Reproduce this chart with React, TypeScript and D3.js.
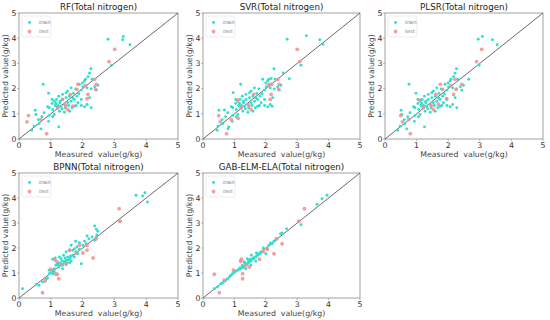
import React from "react";
import * as d3 from "d3";

type P = [number, number];

const ticks = [0, 1, 2, 3, 4, 5];
const titles = [
  "RF(Total nitrogen)",
  "SVR(Total nitrogen)",
  "PLSR(Total nitrogen)",
  "BPNN(Total nitrogen)",
  "GAB-ELM-ELA(Total nitrogen)",
];
const xLabel = "Measured  value(g/kg)";
const yLabel = "Predicted value(g/kg)";
const legendLabels = ["train", "test"];

const rfTrain: P[] = [
  [2.8, 3.96], [3.28, 4.07], [3.26, 3.94], [3.49, 3.74], [2.91, 2.93], [0.76, 2.17], [0.93, 1.82],
  [2.26, 2.79], [2.22, 2.61], [2.09, 2.37], [2.06, 2.3], [2.17, 2.47], [2.3, 2.37], [2.48, 2.13],
  [2.38, 2.07], [2.43, 1.94], [2.27, 1.99], [2.14, 2.03], [2.01, 2.07], [1.96, 1.94], [1.88, 1.8],
  [1.78, 1.99], [1.64, 2.03], [1.53, 1.9], [1.71, 1.81], [1.59, 1.7], [1.48, 1.64], [1.37, 1.57],
  [1.29, 1.5], [1.18, 1.57], [1.11, 1.5], [1.04, 1.57], [1.04, 1.41], [0.95, 1.24], [0.9, 1.28],
  [1.06, 1.17], [1.22, 1.33], [1.32, 1.3], [1.43, 1.37], [1.53, 1.44], [1.64, 1.5], [1.74, 1.57],
  [1.85, 1.44], [1.96, 1.33], [2.06, 1.28], [2.22, 1.64], [2.27, 1.24], [1.8, 1.33], [1.67, 1.24],
  [1.59, 1.1], [1.43, 1.06], [1.27, 1.1], [1.11, 0.97], [1.06, 0.88], [0.95, 0.93], [0.93, 0.7],
  [1.25, 0.48], [0.63, 0.61], [0.51, 1.14], [0.53, 0.97], [0.4, 0.35], [0.48, 0.51], [0.61, 0.77],
  [0.72, 0.88], [1.37, 1.77], [1.48, 1.84], [1.25, 1.7], [1.14, 1.33], [1.9, 2.17], [1.82, 1.7],
  [1.96, 1.57], [2.14, 1.37], [1.35, 1.2], [1.46, 1.24], [1.56, 1.33], [0.79, 1.04], [0.69, 0.4],
  [1.16, 1.41], [1.74, 1.3], [1.29, 1.44], [2.0, 2.22], [1.7, 1.62], [1.2, 1.25],
];
const rfTest: P[] = [
  [3.01, 3.56], [2.83, 3.07], [0.3, 0.93], [0.25, 0.68], [0.69, 0.77], [0.87, 0.21], [1.22, 1.24],
  [1.37, 1.57], [1.85, 2.17], [1.82, 1.97], [2.17, 1.77], [2.14, 1.6], [2.43, 2.17], [2.41, 1.97],
  [2.38, 2.37], [1.53, 1.17], [1.61, 1.77], [1.46, 1.33], [2.09, 2.13], [1.69, 1.3],
];

const svrTrain: P[] = [
  [2.68, 3.96], [3.29, 4.1], [3.72, 3.94], [3.82, 3.76], [3.12, 2.93], [1.2, 2.17], [0.96, 1.84],
  [2.26, 2.79], [2.75, 2.39], [2.09, 2.37], [2.06, 2.3], [2.17, 2.4], [2.3, 2.37], [2.48, 2.13],
  [2.38, 2.07], [2.43, 1.94], [2.27, 1.99], [2.14, 2.03], [2.01, 2.07], [1.96, 1.94], [1.88, 1.8],
  [1.78, 1.99], [1.64, 2.03], [1.53, 1.9], [1.71, 1.81], [1.59, 1.7], [1.48, 1.64], [1.37, 1.57],
  [1.29, 1.5], [1.18, 1.57], [1.11, 1.5], [1.04, 1.57], [1.04, 1.41], [0.95, 1.24], [0.9, 1.28],
  [1.06, 1.17], [1.22, 1.33], [1.32, 1.3], [1.43, 1.37], [1.53, 1.44], [1.64, 1.5], [1.74, 1.57],
  [1.85, 1.44], [1.96, 1.33], [2.06, 1.28], [2.22, 1.64], [2.2, 1.3], [1.8, 1.33], [1.67, 1.24],
  [1.59, 1.1], [1.43, 1.06], [1.27, 1.1], [1.11, 0.97], [1.06, 0.88], [0.95, 0.93], [0.93, 0.7],
  [0.82, 0.48], [0.63, 0.61], [0.51, 1.14], [0.68, 1.15], [0.45, 0.35], [0.48, 0.51], [0.61, 0.77],
  [0.72, 0.88], [1.37, 1.77], [1.48, 1.84], [1.25, 1.7], [1.14, 1.33], [1.9, 2.37], [1.82, 1.7],
  [1.96, 1.57], [2.14, 1.37], [1.35, 1.2], [1.46, 1.24], [1.56, 1.33], [0.79, 1.04], [0.8, 0.4],
  [1.16, 1.41], [1.74, 1.3], [1.29, 1.44], [2.0, 2.22], [1.7, 1.62], [1.2, 1.25], [2.55, 2.62],
];
const svrTest: P[] = [
  [3.0, 3.56], [3.08, 3.07], [0.5, 0.93], [0.55, 0.68], [0.9, 0.77], [0.75, 0.21], [1.22, 1.24],
  [1.1, 1.55], [2.12, 2.17], [2.18, 2.17], [2.17, 1.77], [2.14, 1.57], [2.43, 2.17], [2.41, 1.97],
  [2.38, 2.37], [1.53, 1.17], [1.61, 1.77], [1.46, 1.33], [2.09, 2.13], [1.12, 0.82],
];

const plsrTrain: P[] = [
  [2.95, 3.96], [3.08, 4.07], [3.4, 3.94], [3.55, 3.74], [2.98, 2.93], [0.76, 2.17], [0.98, 1.82],
  [2.26, 2.79], [2.22, 2.61], [2.09, 2.37], [2.06, 2.3], [2.17, 2.47], [2.3, 2.37], [2.48, 2.13],
  [2.38, 2.07], [2.43, 1.94], [2.27, 1.99], [2.14, 2.03], [2.01, 2.07], [1.96, 1.94], [1.88, 1.8],
  [1.78, 1.99], [1.64, 2.03], [1.53, 1.9], [1.71, 1.81], [1.59, 1.7], [1.48, 1.64], [1.37, 1.57],
  [1.29, 1.5], [1.18, 1.57], [1.11, 1.5], [1.04, 1.57], [1.04, 1.41], [0.95, 1.24], [0.9, 1.28],
  [1.06, 1.17], [1.22, 1.33], [1.32, 1.3], [1.43, 1.37], [1.53, 1.44], [1.64, 1.5], [1.74, 1.57],
  [1.85, 1.44], [1.96, 1.33], [2.06, 1.28], [2.22, 1.64], [2.27, 1.24], [1.8, 1.33], [1.67, 1.24],
  [1.59, 1.1], [1.43, 1.06], [1.27, 1.1], [1.11, 0.97], [1.06, 0.88], [0.95, 0.93], [0.93, 0.7],
  [1.25, 0.48], [0.63, 0.61], [0.51, 1.14], [0.53, 0.97], [0.4, 0.35], [0.48, 0.51], [0.61, 0.77],
  [0.72, 0.88], [1.37, 1.77], [1.48, 1.84], [1.25, 1.7], [1.14, 1.33], [1.9, 2.17], [1.82, 1.7],
  [1.96, 1.57], [2.14, 1.37], [1.35, 1.2], [1.46, 1.24], [1.56, 1.33], [0.79, 1.04], [0.69, 0.4],
  [1.16, 1.41], [1.74, 1.3], [1.29, 1.44], [2.0, 2.22], [1.7, 1.62], [1.2, 1.25], [2.65, 2.37],
];
const plsrTest: P[] = [
  [3.06, 3.56], [2.9, 3.07], [0.5, 0.93], [0.55, 0.68], [0.75, 0.77], [0.8, 0.21], [1.22, 1.24],
  [1.1, 1.55], [1.75, 2.17], [1.82, 1.97], [2.17, 1.77], [1.95, 1.6], [2.43, 2.17], [2.25, 1.97],
  [2.22, 2.37], [1.53, 1.17], [1.61, 1.77], [1.46, 1.33], [2.09, 2.13], [1.69, 1.38],
];

const bpnnTrain: P[] = [
  [3.68, 4.11], [3.96, 4.21], [3.89, 4.08], [4.04, 3.84], [0.11, 0.37], [0.63, 0.51], [0.74, 0.64],
  [0.85, 0.75], [0.9, 0.8], [0.95, 0.97], [1.0, 1.01], [1.06, 1.11], [1.11, 1.17], [2.38, 2.88],
  [2.43, 2.75], [2.48, 2.67], [2.3, 2.44], [2.14, 2.48], [2.2, 2.37], [2.43, 2.44], [2.38, 2.31],
  [2.06, 2.27], [1.9, 2.21], [1.78, 2.27], [1.82, 2.04], [1.74, 1.97], [1.64, 2.11], [1.59, 1.91],
  [1.96, 1.37], [1.85, 1.77], [1.69, 1.71], [1.53, 1.64], [1.48, 1.51], [1.43, 1.44], [1.32, 1.57],
  [1.25, 1.41], [1.16, 1.31], [1.37, 1.31], [1.48, 1.33], [1.59, 1.41], [1.61, 1.57], [1.27, 1.64],
  [1.4, 1.71], [1.14, 1.6], [1.06, 1.55], [0.95, 1.11], [1.06, 0.97], [1.11, 1.04], [1.48, 1.84],
  [1.69, 1.91], [1.37, 1.17], [1.25, 1.24], [1.64, 1.47], [1.74, 1.64], [2.01, 2.11], [2.11, 2.17],
  [1.3, 1.38], [1.42, 1.45], [1.55, 1.52], [1.5, 1.4], [1.35, 1.48], [1.2, 1.35], [1.62, 1.68],
  [1.8, 1.85], [1.9, 1.95], [2.45, 2.52], [3.18, 3.05], [0.55, 0.55], [1.22, 1.32], [1.45, 1.6],
];
const bpnnTest: P[] = [
  [3.15, 3.57], [3.17, 3.07], [0.74, 0.21], [0.82, 0.68], [1.25, 0.77], [1.11, 1.55], [1.18, 1.47],
  [1.16, 0.95], [1.32, 1.33], [1.59, 1.91], [1.8, 1.8], [1.9, 2.11], [2.01, 1.8], [2.14, 2.11],
  [2.14, 1.91], [2.33, 1.6], [2.43, 2.37], [1.48, 1.37], [1.0, 1.15], [1.2, 0.95],
];

const gabTrain: P[] = [
  [3.95, 4.11], [3.79, 3.97], [3.63, 3.75], [3.12, 2.93], [2.66, 2.77], [2.47, 2.57], [2.36, 2.37],
  [2.26, 2.27], [2.2, 2.17], [2.1, 2.11], [2.03, 1.97], [1.89, 1.84], [1.78, 1.77], [1.73, 1.71],
  [1.68, 1.64], [1.62, 1.57], [1.57, 1.55], [1.52, 1.47], [1.47, 1.44], [1.41, 1.37], [1.36, 1.33],
  [1.31, 1.28], [1.26, 1.24], [1.2, 1.17], [1.15, 1.15], [1.1, 1.11], [0.99, 1.04], [0.94, 0.97],
  [0.89, 0.91], [0.78, 0.77], [0.68, 0.67], [0.57, 0.57], [0.46, 0.44], [0.36, 0.37], [2.0, 1.77],
  [1.92, 2.0], [1.54, 1.71], [1.41, 1.57], [1.31, 1.44], [1.52, 1.31], [1.68, 1.47], [1.84, 1.84],
  [1.36, 1.17], [1.45, 1.5], [1.5, 1.55], [1.6, 1.6], [1.25, 1.3], [1.05, 1.08], [1.7, 1.8],
  [1.76, 1.72], [1.82, 1.78], [2.15, 2.2], [2.3, 2.3], [1.33, 1.4], [1.38, 1.36], [1.44, 1.4],
  [0.62, 0.6], [0.72, 0.7], [1.18, 1.2], [1.28, 1.22], [0.85, 0.85], [2.52, 2.6],
];
const gabTest: P[] = [
  [3.23, 3.57], [3.05, 3.07], [0.36, 0.95], [0.52, 0.21], [0.68, 0.71], [1.26, 0.77], [1.2, 1.47],
  [1.22, 1.55], [1.26, 0.97], [1.47, 1.24], [2.26, 1.77], [2.52, 2.17], [2.05, 1.95], [0.97, 1.11],
  [1.36, 1.31], [2.34, 2.37], [1.92, 1.87], [1.8, 1.55],
];

const trainSets = [rfTrain, svrTrain, plsrTrain, bpnnTrain, gabTrain];
const testSets = [rfTest, svrTest, plsrTest, bpnnTest, gabTest];

const layout = [
  { x0: 19, x1: 178, y0: 13, y1: 139 },
  { x0: 203, x1: 360, y0: 13, y1: 139 },
  { x0: 385, x1: 543, y0: 13, y1: 139 },
  { x0: 19, x1: 178, y0: 173, y1: 298 },
  { x0: 203, x1: 360, y0: 173, y1: 298 },
];

const TRAIN_COLOR = "#2ee0cf";
const TEST_COLOR = "#ee9090";
const FONT = "DejaVu Sans, sans-serif";

function Panel({ i }: { i: number }) {
  const L = layout[i];
  const x = d3.scaleLinear().domain([0, 5]).range([L.x0, L.x1]);
  const y = d3.scaleLinear().domain([0, 5]).range([L.y1, L.y0]);
  const line = d3.line<P>().x((d) => x(d[0])).y((d) => y(d[1]));
  const cx = (L.x0 + L.x1) / 2;
  const cy = (L.y0 + L.y1) / 2;
  return (
    <g>
      <text x={cx} y={L.y0 - 3.5} textAnchor="middle" fontSize={8.7} fill="#222" fontFamily={FONT}>
        {titles[i]}
      </text>
      <rect x={L.x0} y={L.y0} width={L.x1 - L.x0} height={L.y1 - L.y0} fill="white" stroke="#8a8a8a" strokeWidth={0.8} />
      {ticks.map((t) => (
        <g key={"x" + t}>
          <line x1={x(t)} x2={x(t)} y1={L.y1} y2={L.y1 + 2} stroke="#8a8a8a" strokeWidth={0.6} />
          <text x={x(t)} y={L.y1 + 9} textAnchor="middle" fontSize={7.8} fill="#333" fontFamily={FONT}>
            {t}
          </text>
        </g>
      ))}
      {ticks.map((t) => (
        <g key={"y" + t}>
          <line x1={L.x0 - 2} x2={L.x0} y1={y(t)} y2={y(t)} stroke="#8a8a8a" strokeWidth={0.6} />
          <text x={L.x0 - 2.5} y={y(t) + 2.8} textAnchor="end" fontSize={7.8} fill="#333" fontFamily={FONT}>
            {t}
          </text>
        </g>
      ))}
      <text
        x={cx}
        y={L.y1 + 17.5}
        textAnchor="middle"
        fontSize={7.8}
        fill="#444"
        fontFamily={FONT}
        style={{ whiteSpace: "pre" }}
      >
        {xLabel}
      </text>
      <text
        transform={`translate(${L.x0 - 11},${cy}) rotate(-90)`}
        textAnchor="middle"
        fontSize={7.8}
        fill="#444"
        fontFamily={FONT}
      >
        {yLabel}
      </text>
      <path d={line([[0, 0], [5, 5]]) || ""} stroke="#444" strokeWidth={0.8} fill="none" />
      {trainSets[i].map((d, k) => (
        <circle key={"tr" + k} cx={x(d[0])} cy={y(d[1])} r={1.45} fill={TRAIN_COLOR} />
      ))}
      {testSets[i].map((d, k) => (
        <circle key={"te" + k} cx={x(d[0])} cy={y(d[1])} r={1.9} fill={TEST_COLOR} fillOpacity={0.85} />
      ))}
      <g>
        <rect x={L.x0 + 3} y={L.y0 + 3} width={29} height={21} rx={1.5} fill="white" fillOpacity={0.85} stroke="#e2e2e2" strokeWidth={0.6} />
        <circle cx={L.x0 + 10.5} cy={L.y0 + 9.5} r={1.45} fill={TRAIN_COLOR} />
        <text x={L.x0 + 20} y={L.y0 + 11.3} fontSize={5} fontStyle="italic" fill="#777" fontFamily={FONT}>
          {legendLabels[0]}
        </text>
        <circle cx={L.x0 + 10.5} cy={L.y0 + 18.5} r={1.9} fill={TEST_COLOR} fillOpacity={0.85} />
        <text x={L.x0 + 20} y={L.y0 + 20.3} fontSize={5} fontStyle="italic" fill="#777" fontFamily={FONT}>
          {legendLabels[1]}
        </text>
      </g>
    </g>
  );
}

export default function App() {
  return (
    <svg
      width={550}
      height={320}
      viewBox="0 0 550 320"
      style={{ position: "absolute", left: 0, top: 0, background: "white" }}
    >
      <rect x={0} y={0} width={550} height={320} fill="white" />
      {titles.map((_, i) => (
        <Panel key={i} i={i} />
      ))}
    </svg>
  );
}
